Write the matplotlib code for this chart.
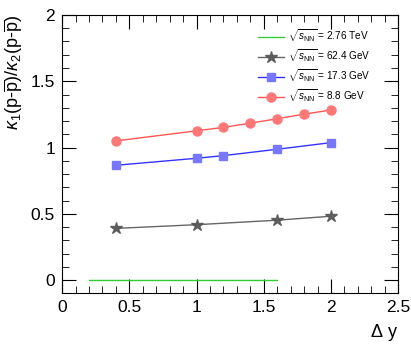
import matplotlib
matplotlib.use('Agg')
from matplotlib import pyplot as plt
from matplotlib.ticker import MultipleLocator, FuncFormatter

plt.rcParams['font.family'] = ['Liberation Sans', 'DejaVu Sans']
plt.rcParams['mathtext.fontset'] = 'custom'
plt.rcParams['mathtext.rm'] = 'Liberation Sans'
plt.rcParams['mathtext.it'] = 'Liberation Sans:italic'
plt.rcParams['mathtext.bf'] = 'Liberation Sans:bold'

# data
dy_276 = [0.2, 1.6]
val_276 = [0.0, 0.0]

dy_624 = [0.4, 1.0, 1.6, 2.0]
val_624 = [0.39, 0.418, 0.452, 0.482]

dy_173 = [0.4, 1.0, 1.2, 1.6, 2.0]
val_173 = [0.866, 0.919, 0.939, 0.987, 1.037]

dy_88 = [0.4, 1.0, 1.2, 1.4, 1.6, 1.8, 2.0]
val_88 = [1.05, 1.126, 1.152, 1.184, 1.217, 1.252, 1.283]

labels = [r'$\sqrt{s_{\rm NN}}$ = 2.76 TeV',
          r'$\sqrt{s_{\rm NN}}$ = 62.4 GeV',
          r'$\sqrt{s_{\rm NN}}$ = 17.3 GeV',
          r'$\sqrt{s_{\rm NN}}$ = 8.8 GeV']

fig = plt.figure(figsize=(4.11, 3.48), dpi=100)
ax = fig.add_axes([0.151, 0.157, 0.818, 0.800])

ax.plot(dy_276, val_276, color='#33cc33', lw=1.0, label=labels[0])
ax.plot(dy_624, val_624, color='#555555', lw=1.0, marker='*', ms=9,
        mfc='#555555', mec='#555555', alpha=0.9, label=labels[1])
ax.plot(dy_173, val_173, color='#3333ff', lw=1.0, marker='s', ms=6,
        mfc='#7777ff', mec='#7777ff', label=labels[2])
ax.plot(dy_88, val_88, color='#ff5555', lw=1.0, marker='o', ms=6.5,
        mfc='#ff7777', mec='#ff7777', label=labels[3])

ax.set_xlim(0, 2.5)
ax.set_ylim(-0.1, 2)
ax.xaxis.set_major_locator(MultipleLocator(0.5))
ax.xaxis.set_minor_locator(MultipleLocator(0.1))
ax.yaxis.set_major_locator(MultipleLocator(0.5))
ax.yaxis.set_minor_locator(MultipleLocator(0.1))
fmt = FuncFormatter(lambda v, p: '%g' % v)
ax.xaxis.set_major_formatter(fmt)
ax.yaxis.set_major_formatter(fmt)
ax.tick_params(which='both', direction='in', top=True, right=True,
               labelsize=12.5, pad=5)
ax.tick_params(which='major', length=10)
ax.tick_params(which='minor', length=5)
for s in ax.spines.values():
    s.set_linewidth(0.8)

ax.set_ylabel(r'$\kappa_1$(p-$\overline{\rm p}$)/$\kappa_2$(p-$\overline{\rm p}$)',
              fontsize=13, loc='top')
ax.set_xlabel(r'$\Delta$ y', fontsize=13, loc='right', labelpad=5)

ax.legend(loc='upper right', bbox_to_anchor=(0.93, 0.97), frameon=False,
          fontsize=7.2, handlelength=2.6, labelspacing=0.35, handletextpad=0.4,
          borderaxespad=0)

fig.savefig('out.png', dpi=100)
